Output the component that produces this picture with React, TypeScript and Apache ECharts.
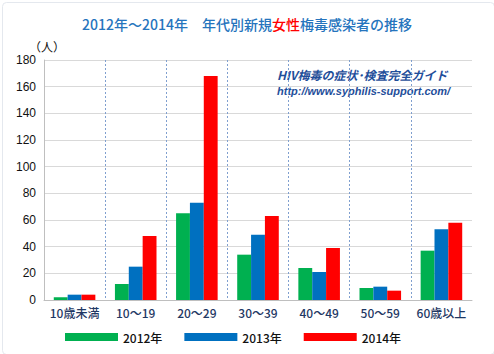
import React, { useEffect, useRef } from "react";
import * as echarts from "echarts";

const categories = ["10歳未満", "10～19", "20～29", "30～39", "40～49", "50～59", "60歳以上"];
const seriesNames = ["2012年", "2013年", "2014年"];
const values2012 = [2, 12, 65, 34, 24, 9, 37];
const values2013 = [4, 25, 73, 49, 21, 10, 53];
const values2014 = [4, 48, 168, 63, 39, 7, 58];
const colors = ["#00b050", "#0070c0", "#ff0000"];

export default function App() {
  const ref = useRef<HTMLDivElement>(null);
  useEffect(() => {
    if (!ref.current) return;
    const chart = echarts.init(ref.current, null, { renderer: "svg" });
    const data = [values2012, values2013, values2014];
    chart.setOption({
      animation: false,
      backgroundColor: "#ffffff",
      title: {
        text: "{b|2012年～2014年　年代別新規}{r|女性}{b|梅毒感染者の推移}",
        left: "center",
        top: 12,
        textStyle: {
          rich: {
            b: { fontSize: 14, color: "#2574bd", fontFamily: "Noto Sans CJK JP", fontWeight: 500 },
            r: { fontSize: 14, color: "#ff0000", fontFamily: "Noto Sans CJK JP", fontWeight: 500 },
          },
        },
      },
      grid: { left: 44, right: 22, top: 60, bottom: 54 },
      legend: {
        left: 60,
        top: 326,
        itemWidth: 53,
        itemHeight: 8,
        itemGap: 22,
        icon: "rect",
        data: seriesNames,
        textStyle: { fontSize: 12, color: "#111", fontFamily: "Noto Sans CJK JP", fontWeight: 500 },
      },
      xAxis: [
        {
          type: "category",
          data: categories,
          axisLine: { lineStyle: { color: "#bfbfbf" } },
          axisTick: { show: false },
          axisLabel: {
            fontSize: 12,
            color: "#1f3864",
            fontFamily: "Noto Sans CJK JP",
            fontWeight: 500,
            margin: 6,
            interval: 0,
          },
          splitLine: { show: false },
        },
        {
          type: "value",
          min: 0,
          max: 7,
          interval: 1,
          show: true,
          position: "bottom",
          axisLine: { show: false },
          axisTick: { show: false },
          axisLabel: { show: false },
          splitLine: {
            show: true,
            showMinLine: false,
            showMaxLine: false,
            lineStyle: { color: "#7f9fcf", type: [2, 2], width: 1 },
          },
        },
      ],
      yAxis: {
        type: "value",
        min: 0,
        max: 180,
        interval: 20,
        axisLine: { show: true, lineStyle: { color: "#bfbfbf" } },
        axisTick: { show: false },
        axisLabel: { fontSize: 12, color: "#111", fontFamily: "Liberation Sans", margin: 8 },
        splitLine: { lineStyle: { color: "#d9d9d9", width: 1 } },
      },
      graphic: [
        {
          type: "text",
          left: 29,
          top: 40,
          style: { text: "（人）", fontSize: 12, fill: "#111", fontFamily: "Noto Sans CJK JP" },
        },
        {
          type: "text",
          left: 277,
          top: 68,
          style: {
            text: "HIV梅毒の症状･検査完全ガイド",
            fontSize: 12,
            fontStyle: "italic",
            fontWeight: "bold",
            fill: "#1f4e9a",
            fontFamily: "Noto Sans CJK JP",
          },
        },
        {
          type: "text",
          left: 277,
          top: 85,
          style: {
            text: "http://www.syphilis-support.com/",
            fontSize: 11,
            fontStyle: "italic",
            fontWeight: "bold",
            fill: "#1f4e9a",
            fontFamily: "Liberation Sans",
          },
        },
        {
          type: "rect",
          left: 0,
          top: 0,
          shape: { width: 492, height: 352, r: 4 },
          style: { fill: "none", stroke: "#e4e8ee", lineWidth: 1 },
          silent: true,
        },
      ],
      series: data.map((d, i) => ({
        name: seriesNames[i],
        type: "bar",
        xAxisIndex: 0,
        data: d,
        barGap: "0%",
        barCategoryGap: "32%",
        itemStyle: { color: colors[i] },
      })),
    });
    return () => chart.dispose();
  }, []);
  return (
    <div
      ref={ref}
      style={{ position: "fixed", left: 0, top: 0, width: 494, height: 354 }}
    />
  );
}
